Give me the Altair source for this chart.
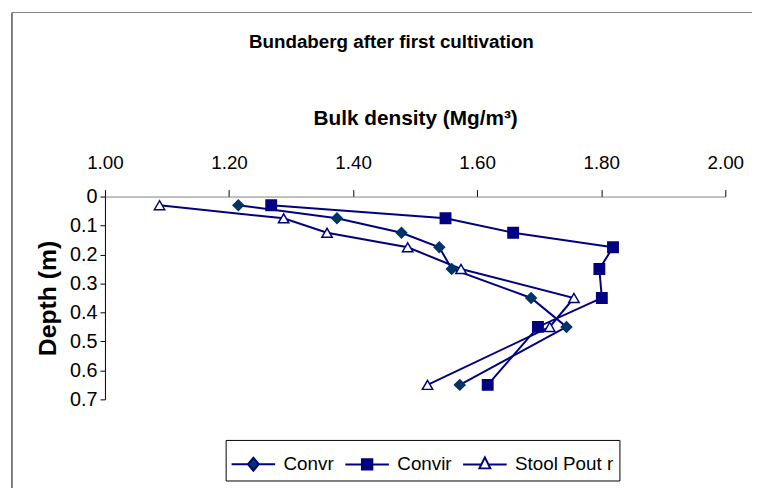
import math
import altair as alt
import pandas as pd

# ---- data ----
depths = [0.03, 0.075, 0.125, 0.175, 0.25, 0.35, 0.45, 0.65]
convr = [1.215, 1.374, 1.478, 1.539, 1.559, 1.687, 1.744, 1.572]
convir = [1.268, 1.549, 1.658, 1.819, 1.797, 1.801, 1.698, 1.617]
stool = [1.088, 1.288, 1.358, 1.488, 1.574, 1.756, 1.717, 1.520]
series_names = ["Convr", "Convir", "Stool Pout r"]
x_ticks = [1.0, 1.2, 1.4, 1.6, 1.8, 2.0]
y_ticks = [0.0, 0.1, 0.2, 0.3, 0.4, 0.5, 0.6, 0.7]

rows = []
for name, vals in zip(series_names, [convr, convir, stool]):
    for i, (d, v) in enumerate(zip(depths, vals)):
        rows.append({"series": name, "order": i, "density": v, "depth": d})
df = pd.DataFrame(rows)

NAVY = "#000080"
TEAL = "#003366"
FONT = "Liberation Sans"

W, H = 627, 205

x_enc = alt.X(
    "density:Q",
    scale=alt.Scale(domain=[1, 2], nice=False, zero=False),
    axis=alt.Axis(
        orient="top", values=x_ticks, format=".2f", title="Bulk density (Mg/m³)",
        grid=False, domainColor="#808080", tickColor="black", tickSize=7,
        labelFont=FONT, labelFontSize=19, labelColor="black", labelPadding=17,
        labelFlush=False, labelOverlap=False,
        titleFont=FONT, titleFontSize=21, titleFontWeight="bold", titleColor="black",
        titlePadding=26,
    ),
)
y_enc = alt.Y(
    "depth:Q",
    scale=alt.Scale(domain=[0, 0.7], reverse=True, nice=False, zero=False),
    axis=alt.Axis(
        values=y_ticks, format=".1~f", title="Depth (m)", grid=False,
        domainColor="black", tickColor="black", tickSize=5,
        labelFont=FONT, labelFontSize=20, labelColor="black", labelPadding=3,
        labelFlush=False, labelOverlap=False,
        titleFont=FONT, titleFontSize=25, titleFontWeight="bold", titleColor="black",
        titlePadding=9,
    ),
)

base = alt.Chart(df)

lines = base.mark_line(color=NAVY, strokeWidth=2).encode(
    x=x_enc, y=y_enc, detail="series:N", order="order:Q"
)

points = base.mark_point(filled=True, size=110, opacity=1, strokeWidth=1.5).encode(
    x=x_enc,
    y=y_enc,
    shape=alt.Shape("series:N", scale=alt.Scale(domain=series_names, range=["diamond", "square", "triangle-up"]), legend=None),
    fill=alt.Fill("series:N", scale=alt.Scale(domain=series_names, range=[TEAL, NAVY, "white"]), legend=None),
    stroke=alt.Stroke("series:N", scale=alt.Scale(domain=series_names, range=[TEAL, NAVY, NAVY]), legend=None),
)

# legend symbols: line segment + marker as custom paths
LEG_SIZE = 1225
s = math.sqrt(LEG_SIZE) / 2.0


def u(px):
    return round(px / s, 4)


def seg(gap):
    return f"M{u(-22)},0L{u(-gap)},0M{u(gap)},0L{u(22)},0"


p_diamond = seg(5.5) + f"M0,{u(-6.5)}L{u(5.5)},0L0,{u(6.5)}L{u(-5.5)},0Z"
p_square = seg(5.25) + f"M{u(-5.25)},{u(-5.25)}L{u(5.25)},{u(-5.25)}L{u(5.25)},{u(5.25)}L{u(-5.25)},{u(5.25)}Z"
p_tri = seg(3.6) + f"M0,{u(-7)}L{u(5.5)},{u(4)}L{u(-5.5)},{u(4)}Z"

leg = alt.Legend(
    orient="none", legendX=122, legendY=246, direction="horizontal", title=None,
    padding=6, strokeColor="black", fillColor="white", cornerRadius=0,
    labelFont=FONT, labelFontSize=19, labelColor="black",
    symbolSize=LEG_SIZE, symbolStrokeWidth=2, symbolOffset=3.5, labelOffset=12,
    columnPadding=7,
)

legend_layer = (
    base.transform_calculate(key="datum.series")
    .transform_filter("false")
    .mark_point(filled=True, size=LEG_SIZE, opacity=1, strokeWidth=2)
    .encode(
        shape=alt.Shape("key:N", scale=alt.Scale(domain=series_names, range=[p_diamond, p_square, p_tri]), legend=leg),
        fill=alt.Fill("key:N", scale=alt.Scale(domain=series_names, range=[TEAL, NAVY, "white"]), legend=leg),
        stroke=alt.Stroke("key:N", scale=alt.Scale(domain=series_names, range=[NAVY, NAVY, NAVY]), legend=leg),
    )
)

frame_data = alt.Data(values=[{}])
frame_left = alt.Chart(frame_data).mark_rule(color="black", strokeWidth=1).encode(
    x=alt.value(-94), y=alt.value(-186), y2=alt.value(400)
)
frame_top = alt.Chart(frame_data).mark_rule(color="#808080", strokeWidth=1).encode(
    x=alt.value(-94), x2=alt.value(660), y=alt.value(-186)
)

chart = (
    alt.layer(frame_left, frame_top, lines, points, legend_layer)
    .resolve_scale(shape="independent", fill="independent", stroke="independent")
    .properties(
        width=W,
        height=H,
        title=alt.Title(
            "Bundaberg after first cultivation", font=FONT, fontSize=19,
            fontWeight="bold", color="black", anchor="middle", dx=-24, offset=-40,
        ),
        autosize=alt.AutoSizeParams(type="none"),
        padding={"left": 98, "top": 188, "right": 27, "bottom": 87},
    )
    .configure_view(stroke=None)
)

chart.save("out.html", embed_options={"renderer": "svg", "actions": False})
